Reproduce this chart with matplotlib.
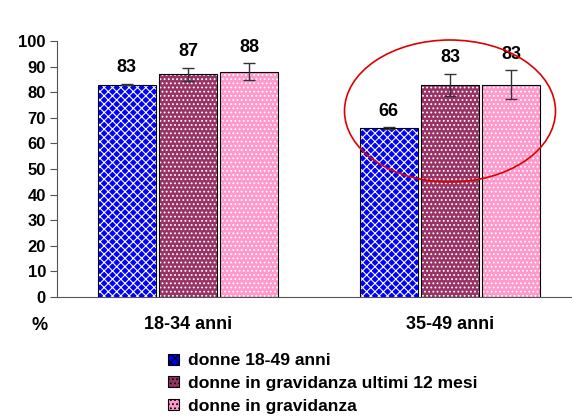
import matplotlib
matplotlib.use("Agg")
import matplotlib.pyplot as plt
from matplotlib.patches import Ellipse, Rectangle
import numpy as np

plt.rcParams["font.family"] = ["Liberation Sans", "DejaVu Sans"]
plt.rcParams["font.weight"] = "bold"
plt.rcParams["hatch.linewidth"] = 0.8

categories = ["18-34 anni", "35-49 anni"]
series = ["donne 18-49 anni", "donne in gravidanza ultimi 12 mesi", "donne in gravidanza"]
values = [[83, 66], [87, 83], [88, 83]]
errors = [[0.3, 0.4], [2.5, 4.3], [3.3, 5.6]]
colors = ["#0000ff", "#993366", "#ff99cc"]
hatches = ["xxxx", "....", "...."]

fig = plt.figure(figsize=(5.72, 4.19), dpi=100)
ax = fig.add_axes([57 / 572, 122 / 419, 524 / 572, 256 / 419])

x = np.arange(len(categories))
width = 0.22
offsets = [-0.234, 0, 0.234]

for i in range(3):
    pos = x + offsets[i]
    ax.bar(pos, values[i], width, color=colors[i], edgecolor="none", zorder=2)
    # motivo bianco sopra il colore
    ax.bar(pos, values[i], width, color="none", edgecolor="white", hatch=hatches[i],
           linewidth=0, zorder=3)
    ax.bar(pos, values[i], width, color="none", edgecolor="black", linewidth=0.8, zorder=4)
    ax.errorbar(pos, values[i], yerr=errors[i], fmt="none", ecolor="#333333",
                elinewidth=1, capsize=4, capthick=1, zorder=5)
    for p, v, e in zip(pos, values[i], errors[i]):
        ax.text(p, v + e + 7, str(v), ha="center", va="center_baseline", fontsize=13,
                fontweight="bold")

ax.set_xlim(-0.5, 1.5)
ax.set_ylim(0, 100)
ax.set_yticks(range(0, 101, 10))
ax.set_xticks(x)
ax.set_xticklabels(categories, fontsize=13, fontweight="bold")
ax.tick_params(axis="x", length=0, pad=14)
ax.tick_params(axis="y", labelsize=12, length=5, direction="out", color="#555555", pad=3)
for lab in ax.get_yticklabels():
    lab.set_fontweight("bold")
for s in ["top", "right"]:
    ax.spines[s].set_visible(False)
ax.spines["left"].set_color("#555555")
ax.spines["bottom"].set_color("#555555")
ax.text(40 / 572, 1 - 325 / 419, "%", transform=fig.transFigure, fontsize=13,
        fontweight="bold", ha="center", va="center")

# ellisse rossa
ell = Ellipse((450 / 572, 1 - 111 / 419), 211 / 572, 142 / 419, transform=fig.transFigure,
              fill=False, edgecolor="#dd0000", linewidth=1.2, zorder=10)
fig.patches.append(ell)

# legenda
handles = []
for i in range(3):
    handles.append(Rectangle((0, 0), 1, 1, facecolor=colors[i], edgecolor="black",
                             hatch=hatches[i], linewidth=0.8))
leg = fig.legend(handles, series, loc="upper left", bbox_to_anchor=(163 / 572, 1 - 348 / 419),
                 frameon=False, handlelength=0.6, handleheight=0.6, handletextpad=0.5,
                 labelspacing=0.44, borderaxespad=0, borderpad=0.3,
                 prop={"size": 12.6, "weight": "bold"})

fig.savefig("out.png", dpi=100)
